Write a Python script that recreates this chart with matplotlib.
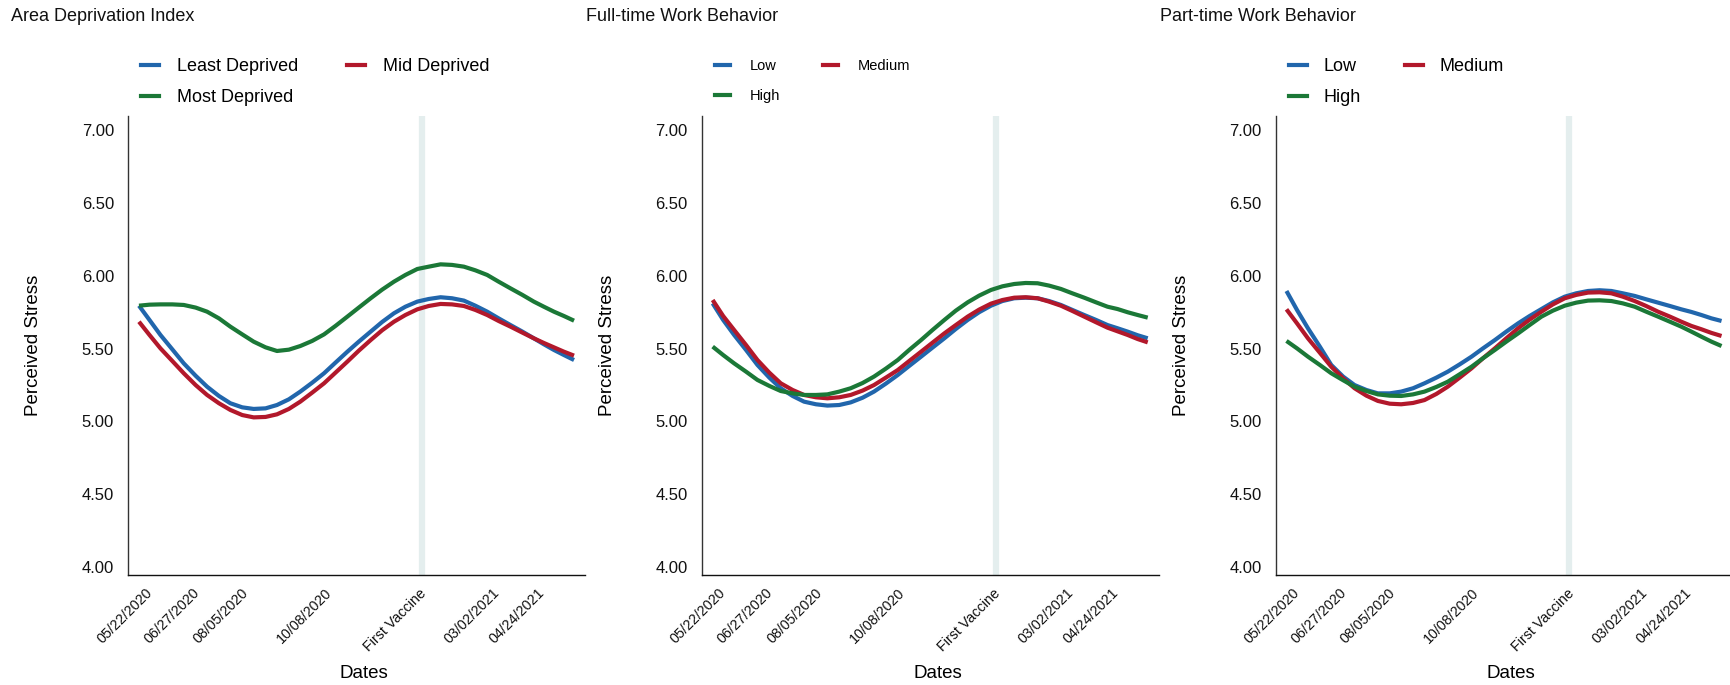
import matplotlib
matplotlib.use("Agg")
import matplotlib.pyplot as plt
from matplotlib.lines import Line2D

plt.rcParams["font.family"] = ["Liberation Sans", "DejaVu Sans"]

# Horizontal position along the study timeline (0-100 scale of the axis)
time_pos = [2.4, 4.7, 7.1, 9.7, 12.2, 14.8, 17.3, 19.9, 22.4, 25.0,
            27.5, 30.1, 32.6, 35.2, 37.7, 40.3, 42.9, 45.4, 48.0, 50.5,
            53.1, 55.6, 58.2, 60.7, 63.3, 65.8, 68.4, 70.9, 73.5, 76.0,
            78.6, 81.1, 83.7, 86.3, 88.8, 91.0, 93.2, 95.4, 97.6]
tick_pos = [5.9, 16.2, 26.9, 45.1, 65.9, 81.9, 91.7]
tick_labels = ["05/22/2020", "06/27/2020", "08/05/2020", "10/08/2020",
               "First Vaccine", "03/02/2021", "04/24/2021"]
vaccine_pos = 64.3

# Area Deprivation Index
adi_least = [5.795, 5.697, 5.594, 5.495, 5.399, 5.314, 5.239, 5.175, 5.125, 5.097,
             5.086, 5.090, 5.113, 5.152, 5.205, 5.266, 5.331, 5.404, 5.479, 5.548,
             5.617, 5.683, 5.743, 5.788, 5.823, 5.841, 5.853, 5.846, 5.830, 5.795,
             5.754, 5.708, 5.662, 5.617, 5.571, 5.530, 5.491, 5.456, 5.422]
adi_mid = [5.685, 5.594, 5.502, 5.415, 5.331, 5.250, 5.182, 5.125, 5.079, 5.044,
           5.028, 5.031, 5.049, 5.086, 5.136, 5.198, 5.262, 5.335, 5.411, 5.486,
           5.559, 5.626, 5.685, 5.731, 5.770, 5.793, 5.807, 5.804, 5.793, 5.766,
           5.731, 5.690, 5.651, 5.610, 5.571, 5.539, 5.509, 5.479, 5.452]
adi_most = [5.795, 5.802, 5.804, 5.804, 5.800, 5.782, 5.754, 5.708, 5.651, 5.598,
            5.548, 5.509, 5.484, 5.493, 5.518, 5.553, 5.598, 5.656, 5.720, 5.782,
            5.846, 5.905, 5.960, 6.006, 6.047, 6.063, 6.079, 6.075, 6.063, 6.038,
            6.006, 5.960, 5.914, 5.869, 5.823, 5.788, 5.754, 5.724, 5.692]

# Full-time work behavior
ft_low = [5.811, 5.697, 5.594, 5.491, 5.388, 5.301, 5.228, 5.175, 5.136, 5.118,
          5.109, 5.113, 5.131, 5.163, 5.205, 5.260, 5.319, 5.381, 5.445, 5.507,
          5.571, 5.635, 5.697, 5.750, 5.795, 5.827, 5.846, 5.850, 5.846, 5.827,
          5.800, 5.766, 5.731, 5.697, 5.662, 5.640, 5.617, 5.592, 5.571]
ft_medium = [5.834, 5.724, 5.628, 5.525, 5.422, 5.335, 5.262, 5.216, 5.182, 5.166,
             5.159, 5.166, 5.182, 5.212, 5.250, 5.301, 5.353, 5.415, 5.479, 5.541,
             5.605, 5.662, 5.720, 5.768, 5.809, 5.834, 5.850, 5.853, 5.846, 5.823,
             5.795, 5.759, 5.720, 5.681, 5.644, 5.619, 5.594, 5.566, 5.543]
ft_high = [5.514, 5.456, 5.399, 5.342, 5.285, 5.244, 5.209, 5.193, 5.182, 5.182,
           5.186, 5.205, 5.228, 5.264, 5.308, 5.363, 5.422, 5.491, 5.559, 5.628,
           5.697, 5.761, 5.818, 5.864, 5.903, 5.928, 5.944, 5.951, 5.949, 5.933,
           5.910, 5.880, 5.850, 5.818, 5.788, 5.772, 5.750, 5.731, 5.713]

# Part-time work behavior
pt_low = [5.896, 5.766, 5.640, 5.514, 5.388, 5.308, 5.250, 5.216, 5.193, 5.193,
          5.205, 5.228, 5.262, 5.301, 5.342, 5.392, 5.445, 5.502, 5.559, 5.617,
          5.674, 5.724, 5.772, 5.818, 5.857, 5.880, 5.896, 5.901, 5.896, 5.880,
          5.862, 5.839, 5.816, 5.793, 5.770, 5.752, 5.731, 5.708, 5.690]
pt_medium = [5.770, 5.674, 5.571, 5.472, 5.376, 5.296, 5.228, 5.177, 5.141, 5.122,
             5.118, 5.127, 5.147, 5.189, 5.239, 5.301, 5.365, 5.434, 5.502, 5.571,
             5.640, 5.699, 5.754, 5.804, 5.846, 5.869, 5.885, 5.887, 5.880, 5.857,
             5.827, 5.793, 5.754, 5.720, 5.685, 5.656, 5.633, 5.608, 5.587]
pt_high = [5.553, 5.502, 5.445, 5.388, 5.331, 5.283, 5.239, 5.209, 5.186, 5.177,
           5.175, 5.186, 5.205, 5.237, 5.273, 5.324, 5.376, 5.434, 5.491, 5.548,
           5.605, 5.662, 5.720, 5.761, 5.795, 5.816, 5.830, 5.832, 5.827, 5.811,
           5.788, 5.754, 5.720, 5.685, 5.651, 5.617, 5.582, 5.548, 5.518]

y_ticks = [4.0, 4.5, 5.0, 5.5, 6.0, 6.5, 7.0]

BLUE, RED, GREEN = "#2166ac", "#b2182b", "#1b7837"

panels = [
    {
        "title": "Area Deprivation Index",
        "series": [("Least Deprived", adi_least, BLUE),
                   ("Mid Deprived", adi_mid, RED),
                   ("Most Deprived", adi_most, GREEN)],
        "left": 128, "title_x": 11, "leg_x": 141, "leg_fs": 13,
        "leg_colsp": 2.7, "leg_pad": 1.0, "leg_top": 58, "leg_ls": 0.8,
    },
    {
        "title": "Full-time Work Behavior",
        "series": [("Low", ft_low, BLUE),
                   ("Medium", ft_medium, RED),
                   ("High", ft_high, GREEN)],
        "left": 701.7, "title_x": 586, "leg_x": 715, "leg_fs": 10.5,
        "leg_colsp": 3.0, "leg_pad": 1.35, "leg_top": 59.5, "leg_ls": 1.07,
    },
    {
        "title": "Part-time Work Behavior",
        "series": [("Low", pt_low, BLUE),
                   ("Medium", pt_medium, RED),
                   ("High", pt_high, GREEN)],
        "left": 1275.5, "title_x": 1159.5, "leg_x": 1289, "leg_fs": 13,
        "leg_colsp": 2.45, "leg_pad": 0.9, "leg_top": 58, "leg_ls": 0.8,
    },
]

W, H = 1730, 685
fig = plt.figure(figsize=(W / 100, H / 100), dpi=100)

ax_w = 457 / W
ax_b = 1 - 574.8 / H
ax_h = (574.8 - 115.8) / H

for p in panels:
    ax = fig.add_axes([p["left"] / W, ax_b, ax_w, ax_h])
    ax.axvline(vaccine_pos, color="#e4eeee", lw=4.5, zorder=1)
    handles = {}
    for name, vals, col in p["series"]:
        ax.plot(time_pos, vals, color=col, lw=3.0, solid_capstyle="butt",
                solid_joinstyle="round", zorder=3)
        handles[name] = Line2D([], [], color=col, lw=3.0, label=name)

    ax.set_xlim(0, 100)
    ax.set_ylim(3.947, 7.099)
    ax.set_yticks(y_ticks)
    ax.set_yticklabels([f"{v:.2f}" for v in y_ticks], fontsize=12)
    ax.set_xticks(tick_pos)
    ax.set_xticklabels(tick_labels, rotation=45, ha="right", fontsize=10.3)
    ax.tick_params(axis="both", length=0, colors="#111111")
    ax.tick_params(axis="y", pad=10)
    ax.tick_params(axis="x", pad=8)

    for side in ("top", "right"):
        ax.spines[side].set_visible(False)
    ax.spines["left"].set_color("#333333")
    ax.spines["bottom"].set_color("#111111")
    ax.spines["left"].set_linewidth(1.0)
    ax.spines["bottom"].set_linewidth(1.0)

    ax.set_ylabel("Perceived Stress", fontsize=13.5)
    ax.yaxis.set_label_coords(-0.188, 0.5)
    ax.set_xlabel("Dates", fontsize=13.5)
    ax.xaxis.set_label_coords(0.516, -0.197)

    fig.text(p["title_x"] / W, 1 - 16.5 / H, p["title"], fontsize=13,
             ha="left", va="center", color="#111111")

    # two columns filled row by row: first, second / third
    names = [s[0] for s in p["series"]]
    order = [names[0], names[2], names[1]]
    fig.legend(handles=[handles[n] for n in order], loc="upper left",
               bbox_to_anchor=(p["leg_x"] / W, 1 - p["leg_top"] / H),
               ncol=2, frameon=False, fontsize=p["leg_fs"],
               handlelength=1.0, handletextpad=p["leg_pad"],
               columnspacing=p["leg_colsp"], labelspacing=p["leg_ls"],
               borderpad=0, borderaxespad=0)

fig.savefig("out.png", dpi=100, facecolor="white")
